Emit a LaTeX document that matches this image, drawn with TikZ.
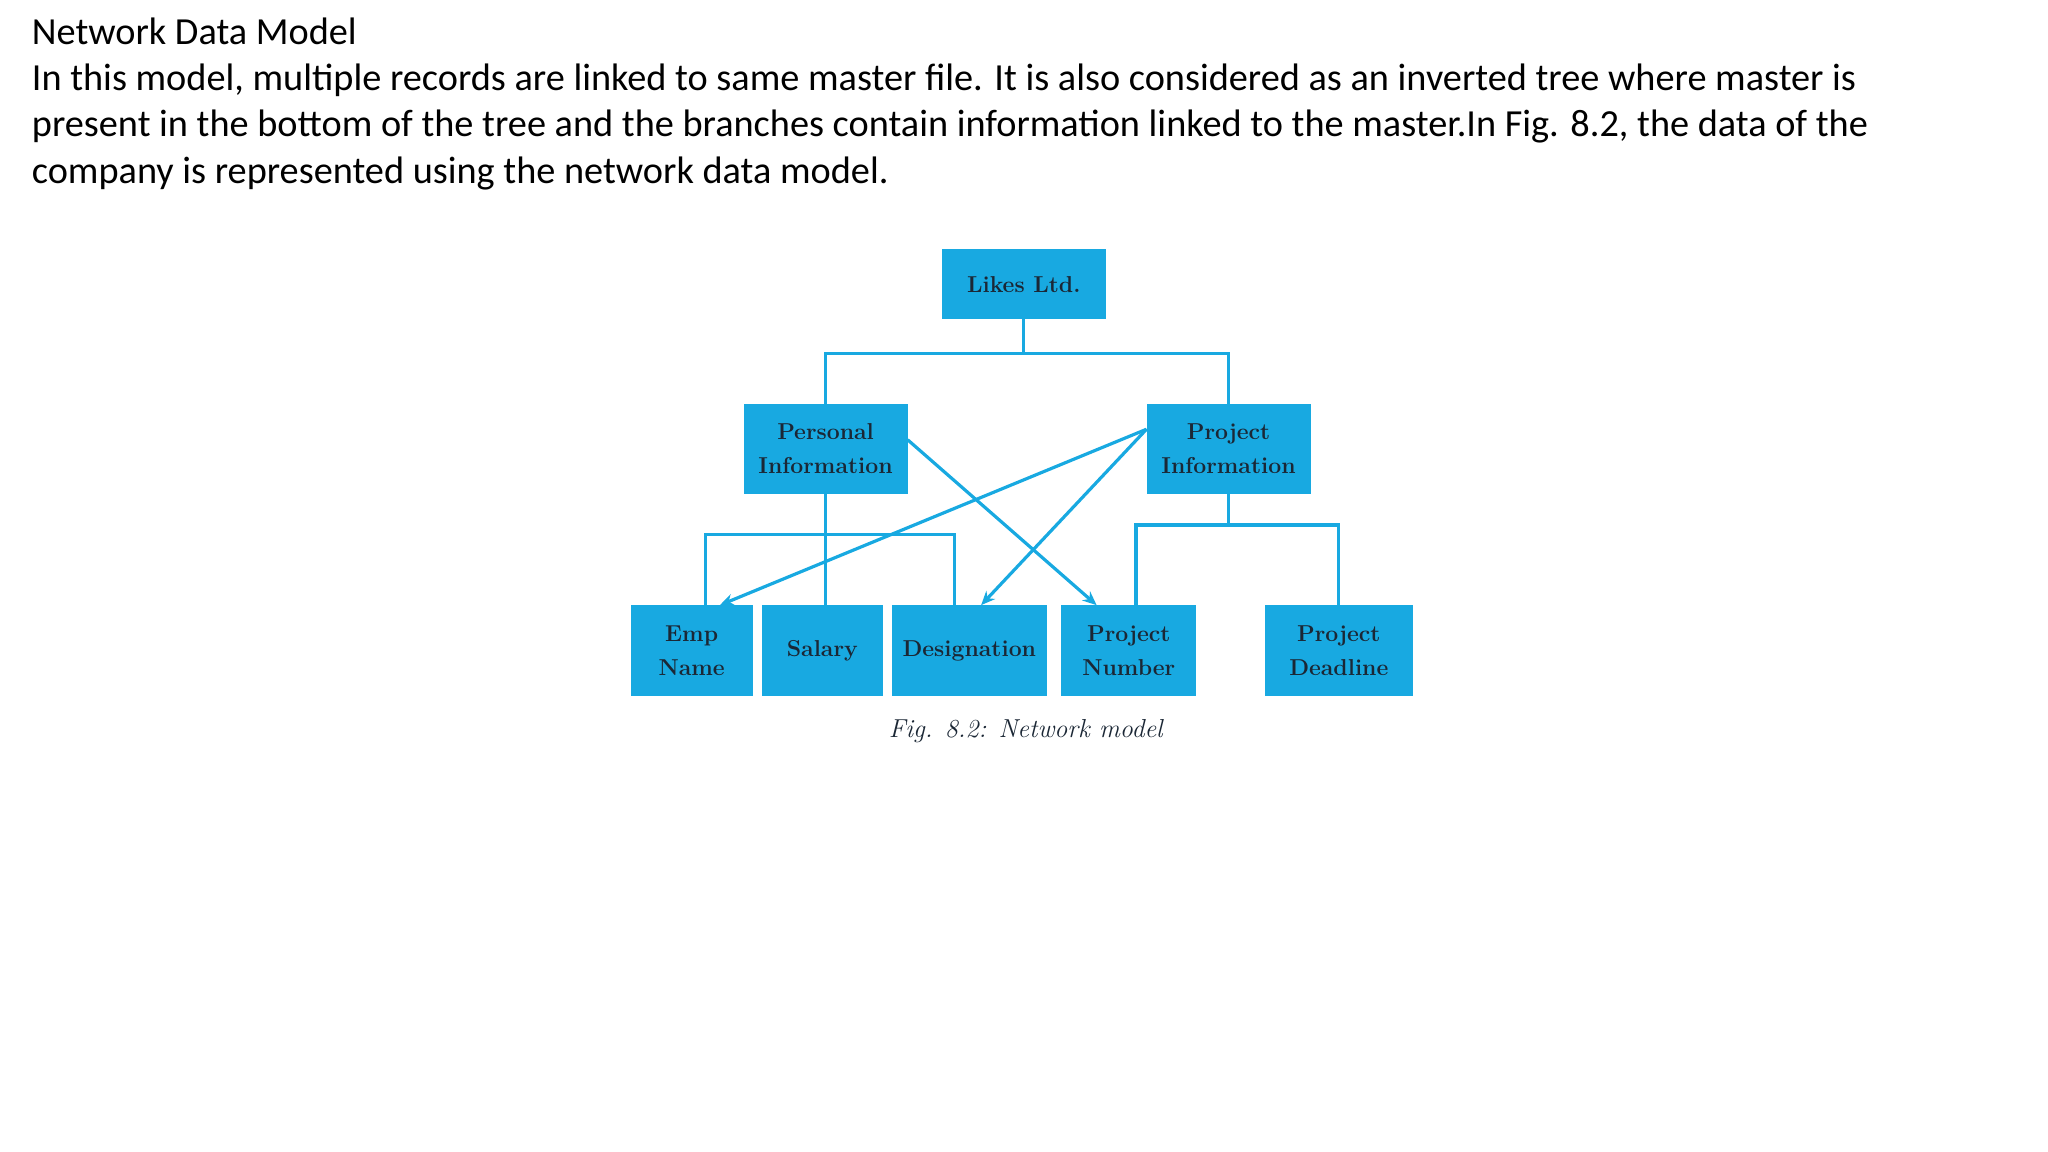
\documentclass[tikz,border=0pt]{standalone}
\usepackage{fontspec}
\setmainfont{Carlito}
\newfontfamily\boxfont{Latin Modern Roman}
\usetikzlibrary{arrows.meta}
\definecolor{cy}{HTML}{18A9E1}
\definecolor{tx}{HTML}{1B2735}
\begin{document}
\begin{tikzpicture}[x=0.6564pt,y=-0.6564pt,
  box/.style={fill=cy,draw=none,inner sep=0pt,align=center,text=tx,font=\boxfont\bfseries\fontsize{11.5}{17}\selectfont},
  ln/.style={draw=cy,line width=1.6pt},
  ar/.style={ln,-{Stealth[length=7pt,width=6pt]}}]
\useasboundingbox (0,0) rectangle (1560.2,877.5);
\begin{scope}[xshift=-3pt]
\node[box,minimum width=82pt,minimum height=34.8pt] (L) at (784.5,216.5) {Likes Ltd.};
\node[box,minimum width=82pt,minimum height=44.6pt] (P) at (633.5,342) {Personal\\Information};
\node[box,minimum width=82pt,minimum height=44.6pt] (Q) at (940.5,342) {Project\\Information};
\node[box,minimum width=61pt,minimum height=45.3pt] (E) at (531.5,495.5) {Emp\\Name};
\node[box,minimum width=60.4pt,minimum height=45.3pt] (S) at (631,495.5) {Salary};
\node[box,minimum width=77.5pt,minimum height=45.3pt] (D) at (743,495.5) {Designation};
\node[box,minimum width=67.6pt,minimum height=45.3pt] (N) at (864.5,495.5) {Project\\Number};
\node[box,minimum width=74.2pt,minimum height=45.3pt] (T) at (1024.5,495.5) {Project\\Deadline};
\node[font=\boxfont\itshape\fontsize{13}{15}\selectfont,text=tx] (cap) at (786,557) {Fig. 8.2: Network model};
\coordinate (j1) at (784.5,269);
\coordinate (j2) at (633.5,407);
\coordinate (j3) at (940.5,400);
\coordinate (e1) at (542,461);
\coordinate (e2) at (553,461);
\coordinate (d1) at (732,461);
\coordinate (d2) at (752,461);
\coordinate (n1) at (870,461);
\coordinate (n2) at (840,461);
\coordinate (p1) at (696,335);
\coordinate (q1) at (878,327);
\end{scope}
\node[anchor=north west,align=left,inner sep=0pt,font=\fontsize{19.15}{23.2}\selectfont] (txt) at (24,13)
{Network Data Model\\
In this model, multiple records are linked to same master file. It is also considered as an inverted tree where master is\\
present in the bottom of the tree and the branches contain information linked to the master.In Fig. 8.2, the data of the\\
company is represented using the network data model.};
\draw[ln] (L.south) -- (j1);
\draw[ln] (P.north) |- (j1) -| (Q.north);
\draw[ln] (P.south) -- (P.south|-S.north);
\draw[ln] (e1) |- (j2) -| (d1);
\draw[ln] (Q.south) -- (j3);
\draw[ln] (n1) |- (j3) -| (T.north);
\draw[ar] (p1) -- (n2);
\draw[ar] (q1) -- (e2);
\draw[ar] (q1) -- (d2);
\end{tikzpicture}
\end{document}
